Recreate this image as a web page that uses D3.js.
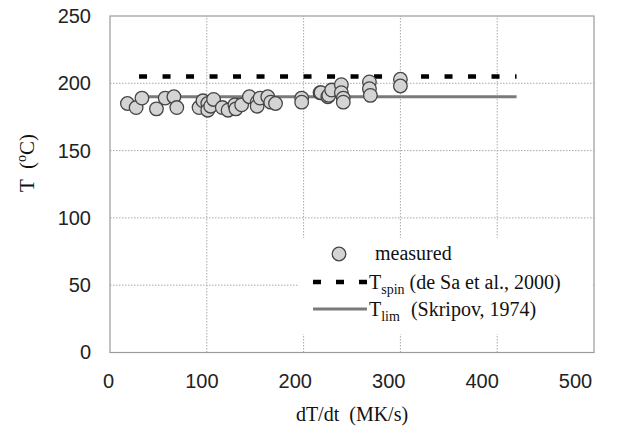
<!DOCTYPE html>
<html><head><meta charset="utf-8">
<script src="https://cdn.jsdelivr.net/npm/d3@7"></script>
<style>body{margin:0;background:#fff}svg{display:block}</style>
</head><body>
<script>
// ---- data ----
const measuredX = [18, 27, 33, 48, 57, 66, 69, 92, 96, 101, 101, 104, 107, 116, 122, 129, 130, 136, 144, 152, 152, 155, 163, 166, 171, 198, 198, 217, 218, 225, 226, 229, 239, 239, 241, 241, 268, 268, 269, 300, 300];
const measuredY = [185, 182, 189, 181, 189, 190, 182, 182, 187, 185, 180, 183, 188, 182, 180, 184, 181, 184, 190, 186, 183, 189, 190, 186, 185, 189, 186, 193, 193, 190, 191, 195, 199, 193, 189, 186, 201, 196, 191, 203, 198];
const spinX = [30, 420];
const spinY = [205, 205];
const limX = [30, 420];
const limY = [190, 190];
const xTicks = [0, 100, 200, 300, 400, 500];
const yTicks = [0, 50, 100, 150, 200, 250];

const W = 624, H = 434;
const svg = d3.select("body").append("svg").attr("width", W).attr("height", H);
const x = d3.scaleLinear().domain([0, 500]).range([110, 594]);
// the reference's tick labels sit on a slightly narrower span than its plot area
const xLab = d3.scaleLinear().domain([0, 500]).range([108, 575]);
const y = d3.scaleLinear().domain([0, 250]).range([352.5, 16]);

// gridlines
const grid = svg.append("g").attr("stroke", "#a8a8a8").attr("stroke-width", 1).attr("stroke-dasharray", "1.5,1.5");
grid.selectAll("line.h").data(yTicks.filter(d => d > 0 && d < 250)).enter().append("line")
  .attr("x1", x(0)).attr("x2", x(500)).attr("y1", d => y(d)).attr("y2", d => y(d));
grid.selectAll("line.v").data(xTicks.filter(d => d > 0 && d < 500)).enter().append("line")
  .attr("y1", y(0)).attr("y2", y(250)).attr("x1", d => x(d)).attr("x2", d => x(d));

// frame
svg.append("rect").attr("x", x(0)).attr("y", y(250)).attr("width", x(500) - x(0)).attr("height", y(0) - y(250))
  .attr("fill", "none").attr("stroke", "#9a9a9a").attr("stroke-width", 1.2);

// axes (labels only)
const xAxis = d3.axisBottom(xLab).tickValues(xTicks).tickSize(0).tickPadding(21);
const gx = svg.append("g").attr("transform", `translate(0,${y(0)})`).call(xAxis);
gx.select(".domain").remove();
gx.selectAll("text").attr("font-family", "Liberation Sans, Arial, sans-serif").attr("font-size", 20).attr("fill", "#222");
const yAxis = d3.axisLeft(y).tickValues(yTicks).tickSize(0).tickPadding(19);
const gy = svg.append("g").attr("transform", `translate(${x(0)},0)`).call(yAxis);
gy.select(".domain").remove();
gy.selectAll("text").attr("font-family", "Liberation Sans, Arial, sans-serif").attr("font-size", 20).attr("fill", "#222");

// lines
const line = d3.line().x(d => x(d[0])).y(d => y(d[1]));
svg.append("path").datum(limX.map((v, i) => [v, limY[i]])).attr("d", line)
  .attr("stroke", "#7a7a7a").attr("stroke-width", 3).attr("fill", "none");
svg.append("path").datum(spinX.map((v, i) => [v, spinY[i]])).attr("d", line)
  .attr("stroke", "#000").attr("stroke-width", 4.5).attr("stroke-dasharray", "8,15.5").attr("fill", "none");

// points
svg.append("g").selectAll("circle").data(measuredX.map((v, i) => [v, measuredY[i]])).enter().append("circle")
  .attr("cx", d => x(d[0])).attr("cy", d => y(d[1])).attr("r", 6.8)
  .attr("fill", "#d4d4d4").attr("stroke", "#454545").attr("stroke-width", 1.3);

// legend
const serif = "Liberation Serif, Times New Roman, serif";
const lg = svg.append("g");
lg.append("rect").attr("x", 298).attr("y", 238).attr("width", 294).attr("height", 96).attr("fill", "#fff");
lg.append("circle").attr("cx", 339).attr("cy", 254).attr("r", 6.8).attr("fill", "#d4d4d4").attr("stroke", "#454545").attr("stroke-width", 1.3);
lg.append("text").attr("x", 375).attr("y", 260).attr("font-family", serif).attr("font-size", 20).attr("fill", "#111").text("measured");
lg.append("line").attr("x1", 313).attr("x2", 367).attr("y1", 282).attr("y2", 282).attr("stroke", "#000").attr("stroke-width", 4.5).attr("stroke-dasharray", "8,15");
const t1 = lg.append("text").attr("x", 369).attr("y", 289).attr("font-family", serif).attr("font-size", 20).attr("fill", "#111");
t1.append("tspan").text("T");
t1.append("tspan").attr("font-size", 14).attr("dy", 5).text("spin");
t1.append("tspan").attr("dy", -5).text(" (de Sa et al., 2000)");
lg.append("line").attr("x1", 313).attr("x2", 367).attr("y1", 309).attr("y2", 309).attr("stroke", "#7a7a7a").attr("stroke-width", 3);
const t2 = lg.append("text").attr("x", 369).attr("y", 316).attr("font-family", serif).attr("font-size", 20).attr("fill", "#111");
t2.append("tspan").text("T");
t2.append("tspan").attr("font-size", 14).attr("dy", 5).text("lim");
t2.append("tspan").attr("dy", -5).attr("dx", 6).text(" (Skripov, 1974)");

// axis titles
svg.append("text").attr("x", 352).attr("y", 421).attr("text-anchor", "middle").attr("font-family", serif).attr("font-size", 20).attr("fill", "#111")
  .attr("xml:space", "preserve").text("dT/dt  (MK/s)");
const yt = svg.append("text").attr("transform", "translate(34,163) rotate(-90)").attr("text-anchor", "middle").attr("font-family", serif).attr("font-size", 21).attr("fill", "#111")
  .attr("xml:space", "preserve");
yt.append("tspan").text("T  (");
yt.append("tspan").attr("font-size", 14).attr("dy", -8).text("o");
yt.append("tspan").attr("dy", 8).text("C)");
</script>
</body></html>
